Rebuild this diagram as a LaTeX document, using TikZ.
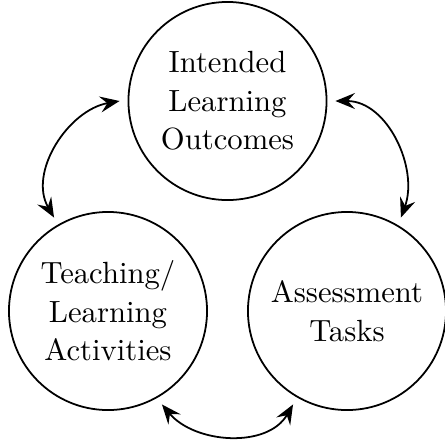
\documentclass[tikz,border=0pt]{standalone}
\usepackage{fontspec}
\setmainfont{lmroman10-regular.otf}
\usetikzlibrary{arrows.meta}
\begin{document}
\begin{tikzpicture}[x=0.5634pt, y=-0.5634pt,
  stage/.style={circle, draw, line width=1pt, minimum size=111.6pt,
    inner sep=0pt, outer sep=5pt, align=center,
    font=\fontsize{17.28}{21.7}\selectfont},
  tip/.style={Stealth[length=11pt,width=9pt,inset=4pt]},
  link/.style={line width=1pt, {Stealth[length=11pt,width=9pt,inset=4pt]}-{Stealth[length=11pt,width=9pt,inset=4pt]}}
]
\useasboundingbox (0,0) rectangle (445,444);
\node[stage] (ilo) at (227.5,101) {Intended\\Learning\\Outcomes};
\node[stage] (tla) at (108,311) {Teaching/\\Learning\\Activities};
\node[stage] (at)  at (347,311) {Assessment\\Tasks};
% double-headed links between the three stages
\draw[link] (ilo.180) to[out=190, in=120] (tla.120);
\draw[link] (tla.-60) to[out=-50, in=240] (at.-120);
\draw[link] (at.60) to[out=70, in=0] (ilo.0);
\end{tikzpicture}
\end{document}
